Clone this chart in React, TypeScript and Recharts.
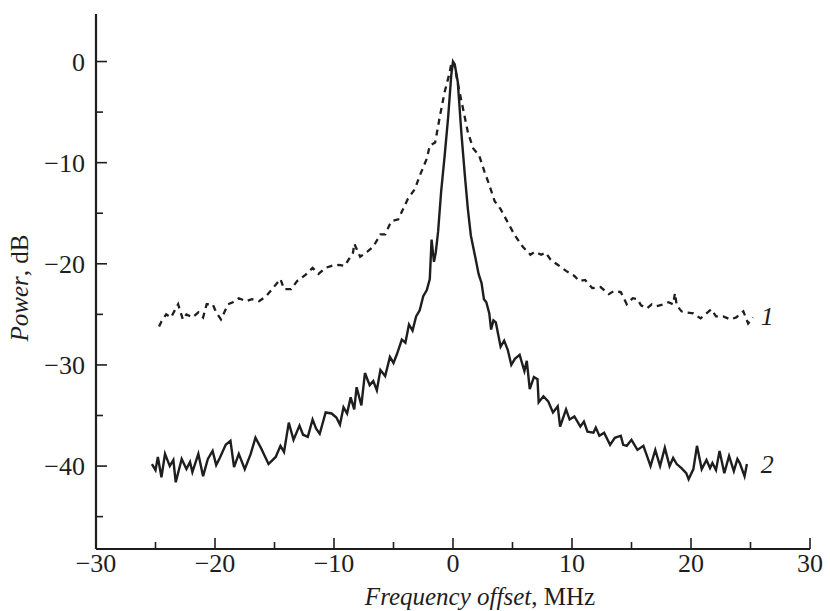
import React from "react";
import { LineChart, Line, XAxis, YAxis, Label, ReferenceDot } from "recharts";

// curve 1 (dashed)
const freq1 = [
  -24.7, -24.5, -24.1, -23.7, -23.1, -22.7, -22.4, -21.9, -21.4, -21.0,
  -20.7, -20.2, -19.9, -19.5, -18.9, -18.5, -18.0, -17.4, -16.9, -16.3,
  -15.7, -15.2, -14.5, -14.2, -13.6, -13.1, -12.4, -11.8, -11.3, -10.7,
  -10.2, -9.6, -9.1, -8.4, -8.3, -7.8, -7.2, -6.7, -6.1, -5.7,
  -5.2, -4.6, -4.2, -3.8, -3.2, -2.8, -2.2, -1.95, -1.5, -1.1,
  -0.7, -0.35, -0.1, 0.1, 0.3, 0.55, 0.85, 1.25, 1.7, 2.2,
  2.65, 3.05, 3.5, 4.0, 4.6, 5.15, 5.85, 6.5, 6.9, 7.4,
  7.8, 8.2, 8.8, 9.5, 10.2, 10.6, 11.1, 11.7, 12.4, 13.1,
  13.5, 14.1, 14.6, 15.1, 15.5, 15.8, 16.3, 16.7, 17.1, 17.7,
  18.1, 18.5, 18.65, 18.8, 19.2, 19.6, 20.2, 20.8, 21.3, 21.7,
  22.1, 22.7, 23.3, 23.8, 24.4, 24.8, 25.2,
];
const power1 = [
  -26.2, -25.7, -25.0, -25.3, -24.0, -25.5, -25.0, -25.3, -24.8, -25.3,
  -24.0, -24.0, -24.8, -25.5, -24.0, -23.8, -23.4, -23.7, -23.5, -23.7,
  -23.2, -22.5, -21.5, -22.5, -22.5, -21.7, -21.1, -20.4, -21.0, -20.4,
  -20.2, -20.1, -20.2, -18.9, -18.0, -19.3, -18.8, -18.3, -17.1, -17.1,
  -15.8, -15.6, -14.6, -13.6, -12.6, -11.3, -9.6, -8.3, -8.0, -5.4,
  -3.0, -1.4, 0, -0.2, -1.5, -3.0, -4.7, -7.0, -8.6, -9.3,
  -10.9, -12.2, -13.8, -14.6, -15.9, -17.1, -18.3, -19.1, -18.8, -19.1,
  -18.9, -19.6, -20.1, -20.7, -21.2, -21.7, -21.6, -22.4, -22.3, -23.0,
  -22.7, -22.8, -24.0, -23.4, -23.5, -24.1, -24.4, -24.0, -24.2, -24.0,
  -23.8, -24.0, -22.9, -24.1, -24.7, -24.8, -24.9, -25.4, -24.9, -24.5,
  -25.2, -25.2, -25.5, -25.3, -24.7, -25.9, -25.3,
];

// curve 2 (solid)
const freq2 = [
  -25.3, -25.0, -24.8, -24.5, -24.2, -23.8, -23.5, -23.3, -22.8, -22.4,
  -22.1, -21.9, -21.4, -21.0, -20.6, -20.2, -19.9, -19.6, -19.1, -18.7,
  -18.4, -18.0, -17.5, -17.0, -16.6, -16.1, -15.9, -15.5, -14.9, -14.5,
  -14.2, -13.8, -13.4, -12.9, -12.6, -12.2, -11.8, -11.5, -11.2, -10.7,
  -10.2, -9.8, -9.5, -9.2, -8.9, -8.6, -8.3, -8.1, -7.7, -7.4,
  -7.0, -6.7, -6.4, -6.1, -5.7, -5.3, -5.0, -4.7, -4.3, -4.0,
  -3.7, -3.4, -3.1, -2.8, -2.5, -2.2, -1.95, -1.8, -1.6, -1.45,
  -1.25, -1.0, -0.7, -0.4, -0.15, 0.0, 0.15, 0.4, 0.7, 1.0,
  1.25, 1.5, 1.95, 2.15, 2.4, 2.6, 2.8, 3.05, 3.2, 3.4,
  3.6, 4.0, 4.3, 4.6, 4.9, 5.2, 5.6, 6.0, 6.2, 6.45,
  6.8, 7.1, 7.2, 7.6, 8.0, 8.4, 8.8, 9.0, 9.5, 9.8,
  10.2, 10.7, 11.0, 11.3, 11.8, 12.0, 12.3, 12.7, 13.2, 13.6,
  14.1, 14.3, 14.6, 15.0, 15.5, 16.0, 16.3, 16.6, 17.0, 17.4,
  17.8, 18.2, 18.5, 18.8, 19.2, 19.6, 19.8, 20.2, 20.5, 20.9,
  21.3, 21.6, 21.8, 22.1, 22.4, 22.8, 23.2, 23.6, 23.9, 24.1,
  24.5, 24.7,
];
const power2 = [
  -39.8, -40.4, -39.1, -41.1, -38.8, -40.0, -39.4, -41.6, -39.3, -40.3,
  -39.6, -40.6, -38.8, -41.0, -39.3, -38.5, -39.9, -39.2, -37.9, -37.5,
  -40.1, -38.8, -40.3, -38.8, -37.2, -38.3, -38.8, -39.8, -39.1, -38.0,
  -38.6, -35.7, -37.4, -36.0, -36.9, -37.1, -35.4, -36.3, -36.8, -34.7,
  -34.8, -35.2, -35.9, -34.2, -34.8, -33.2, -34.4, -32.2, -34.0, -30.8,
  -32.0, -31.6, -32.5, -30.5, -31.1, -29.2, -29.8, -28.9, -27.5, -27.8,
  -26.0, -26.6, -25.2, -24.6, -23.2, -22.6, -21.5, -17.6, -19.8, -18.9,
  -16.8, -12.9, -9.3, -5.4, -1.4, 0.0, -0.3, -2.0, -7.0, -11.3,
  -14.6, -17.2, -19.8, -21.0, -21.9, -23.5, -23.8, -24.9, -26.5, -25.6,
  -25.8, -28.2, -27.6, -28.5, -30.0, -29.4, -29.0, -30.6, -29.6, -32.4,
  -31.2, -31.4, -33.7, -33.1, -33.6, -34.7, -34.1, -36.1, -34.4, -35.4,
  -35.1, -36.1, -35.6, -36.6, -36.7, -36.2, -37.0, -36.7, -37.9, -37.2,
  -37.0, -37.9, -38.0, -37.4, -38.4, -38.0, -39.0, -40.0, -38.4, -40.0,
  -38.2, -40.0, -39.2, -39.8, -40.2, -40.7, -41.3, -40.3, -38.0, -40.3,
  -39.4, -40.2, -39.7, -40.4, -38.5, -40.7, -39.0, -40.5, -39.3, -39.7,
  -41.0, -39.8,
];

const xTicks = [-30, -25, -20, -15, -10, -5, 0, 5, 10, 15, 20, 25, 30];
const yTicks = [-45, -40, -35, -30, -25, -20, -15, -10, -5, 0];
const curveNames = ["1", "2"];
const curveNameX = [26.4, 26.4];
const curveNameY = [-25.3, -39.9];

const serif = '"Liberation Serif", "Times New Roman", serif';
const ink = "#1e1e1e";
const tickFs = 26;
const titleFs = 25;

const dashedData = freq1.map((f, i) => ({ f, p: power1[i] }));
const solidData = freq2.map((f, i) => ({ f, p: power2[i] }));

const fmt = (v: number) => (v < 0 ? "\u2212" + Math.abs(v) : String(v));

const XTick = (props: any) => {
  const { x, y, payload } = props;
  const major = payload.value % 10 === 0;
  return (
    <g>
      <line x1={x} x2={x} y1={y} y2={y - (major ? 11 : 7)} stroke={ink} strokeWidth={1.6} />
      {major && (
        <text x={x} y={y + 23} textAnchor="middle" fontFamily={serif} fontSize={tickFs} fill={ink}>
          {fmt(payload.value)}
        </text>
      )}
    </g>
  );
};

const YTick = (props: any) => {
  const { x, y, payload } = props;
  const major = payload.value % 10 === 0;
  return (
    <g>
      <line x1={x} x2={x + (major ? 11 : 7)} y1={y} y2={y} stroke={ink} strokeWidth={1.6} />
      {major && (
        <text x={x - 11} y={y + 9} textAnchor="end" fontFamily={serif} fontSize={tickFs} fill={ink}>
          {fmt(payload.value)}
        </text>
      )}
    </g>
  );
};

const CurveName = (name: string) => (props: any) => {
  const { viewBox } = props;
  return (
    <text x={viewBox.x} y={viewBox.y + 8} textAnchor="middle" fontFamily={serif} fontSize={tickFs}
      fontStyle="italic" fill={ink}>
      {name}
    </text>
  );
};

export default function App() {
  return (
    <div style={{ position: "absolute", left: 0, top: 0, width: 830, height: 611, background: "#fff" }}>
      <LineChart width={830} height={611} margin={{ top: 14, right: 20, bottom: 0, left: 0 }}>
        <XAxis
          type="number"
          dataKey="f"
          domain={[-30, 30]}
          ticks={xTicks}
          height={62}
          tickSize={0}
          tickMargin={0}
          tickLine={false}
          tick={<XTick />}
          axisLine={{ stroke: ink, strokeWidth: 2.2 }}
          allowDuplicatedCategory={false}
        >
          <Label
            content={({ viewBox }: any) => (
              <text x={viewBox.x + viewBox.width / 2 + 27} y={viewBox.y + 56} textAnchor="middle"
                fontFamily={serif} fontSize={titleFs} fill={ink}>
                <tspan fontStyle="italic">Frequency offset</tspan>, MHz
              </text>
            )}
          />
        </XAxis>
        <YAxis
          type="number"
          domain={[-48.2, 4.7]}
          ticks={yTicks}
          width={96}
          tickSize={0}
          tickMargin={0}
          tickLine={false}
          tick={<YTick />}
          axisLine={{ stroke: ink, strokeWidth: 2.2 }}
        >
          <Label
            content={() => {
              const cx = 28;
              const cy = 288;
              return (
                <text x={cx} y={cy} textAnchor="middle" transform={`rotate(-90, ${cx}, ${cy})`}
                  fontFamily={serif} fontSize={titleFs} fill={ink}>
                  <tspan fontStyle="italic">Power</tspan>, dB
                </text>
              );
            }}
          />
        </YAxis>
        <Line
          data={dashedData}
          dataKey="p"
          type="linear"
          stroke={ink}
          strokeWidth={2.3}
          strokeDasharray="6 5"
          dot={false}
          isAnimationActive={false}
        />
        <Line
          data={solidData}
          dataKey="p"
          type="linear"
          stroke={ink}
          strokeWidth={2.4}
          dot={false}
          isAnimationActive={false}
        />
        {curveNames.map((n, i) => (
          <ReferenceDot key={n} x={curveNameX[i]} y={curveNameY[i]} r={0} fill="none" stroke="none"
            label={CurveName(n)} />
        ))}
      </LineChart>
    </div>
  );
}
